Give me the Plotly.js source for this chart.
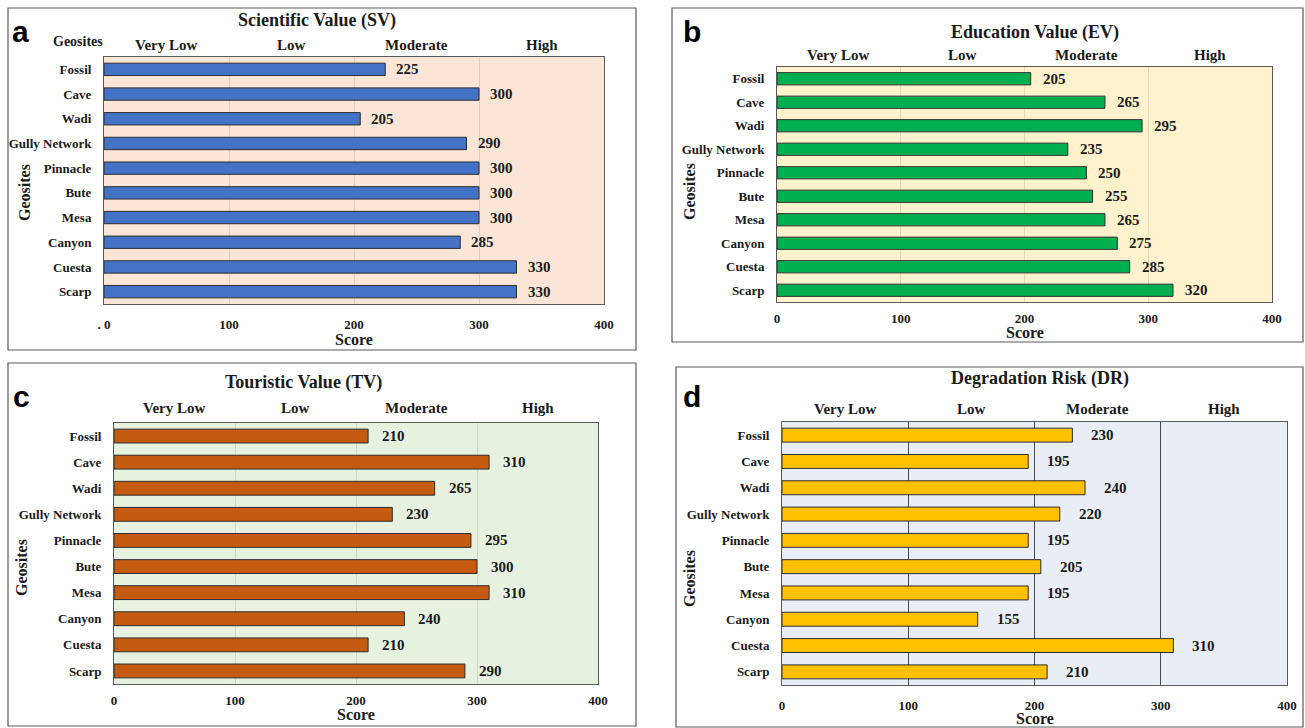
<!DOCTYPE html>
<html>
<head>
<meta charset="utf-8">
<script src="https://cdn.plot.ly/plotly-3.0.1.min.js"></script>
<style>html,body{margin:0;padding:0;background:#fff;}#chart{width:1305px;height:728px;}</style>
</head>
<body>
<div id="chart"></div>
<script>
// ---- Data ----
const categories = ['Fossil','Cave','Wadi','Gully Network','Pinnacle','Bute','Mesa','Canyon','Cuesta','Scarp'];
const scientificValue = [225, 300, 205, 290, 300, 300, 300, 285, 330, 330];
const educationValue  = [205, 265, 295, 235, 250, 255, 265, 275, 285, 320];
const touristicValue  = [210, 310, 265, 230, 295, 300, 310, 240, 210, 290];
const degradationRisk = [230, 195, 240, 220, 195, 205, 195, 155, 310, 210];
const classLabels  = ['Very Low','Low','Moderate','High'];
const classCenters = [50, 150, 250, 350];
const xTickVals = [0, 100, 200, 300, 400];
const xTickTextA = ['. 0', '100', '200', '300', '400'];
const xTickText  = ['0', '100', '200', '300', '400'];
const panelTitles = ['Scientific Value (SV)','Education Value (EV)','Touristic Value (TV)','Degradation Risk (DR)'];
const panelLetters = ['a','b','c','d'];

// ---- Layout geometry (pixels) ----
const W = 1305, H = 728;
const fx = p => p / W;
const fy = p => 1 - p / H;
const SERIF = '"Liberation Serif", "Times New Roman", serif';
const SANS = '"Liberation Sans", Arial, sans-serif';

const panels = [
  {values: scientificValue, color:'#4472C4', bg:'#FBE5D6', grid:'rgba(0,0,0,0.10)',
   box:[8,8,636,350], plot:[104,57,604,304], title:[317,20], letter:[20,32],
   classY:45, tickText:xTickTextA, standoff:8, scoreY:339, ytitle:[25,192], shift:9, bw:0.5},
  {values: educationValue, color:'#00B050', bg:'#FFF2CC', grid:'rgba(0,0,0,0.10)',
   box:[672,8,1303,342], plot:[777,67,1272,302], title:[1035,33], letter:[692,32],
   classY:55, tickText:xTickText, standoff:4, scoreY:333, ytitle:[690,192], shift:10, bw:0.52},
  {values: touristicValue, color:'#C55A11', bg:'#E7F1E0', grid:'rgba(0,0,0,0.10)',
   box:[8,363,636,726], plot:[114,423,598,684], title:[303,382], letter:[22,397],
   classY:408, tickText:xTickText, standoff:4, scoreY:714, ytitle:[21,568], shift:12, bw:0.53},
  {values: degradationRisk, color:'#FFC000', bg:'#E9EDF5', grid:'#4a4a4a',
   box:[676,367,1303,727], plot:[782,422,1287,685], title:[1040,378], letter:[692,397],
   classY:409, tickText:xTickText, standoff:8, scoreY:718, ytitle:[689,579], shift:17, bw:0.53}
];

const traces = [];
const layout = {
  width: W, height: H, autosize:false,
  margin:{l:0,r:0,t:0,b:0},
  paper_bgcolor:'#ffffff', plot_bgcolor:'rgba(0,0,0,0)',
  showlegend:false, bargap:0,
  shapes:[], annotations:[]
};

panels.forEach((p, i) => {
  const n = i + 1;
  const xa = n === 1 ? 'x' : 'x' + n;
  const ya = n === 1 ? 'y' : 'y' + n;
  const xKey = n === 1 ? 'xaxis' : 'xaxis' + n;
  const yKey = n === 1 ? 'yaxis' : 'yaxis' + n;

  traces.push({
    type:'bar', orientation:'h', x:p.values, y:categories,
    xaxis:xa, yaxis:ya, width:p.bw,
    marker:{color:p.color, line:{color:'#2e2e2e', width:1}},
    hoverinfo:'x+y'
  });

  layout[xKey] = {
    domain:[fx(p.plot[0]), fx(p.plot[2])], anchor:ya,
    range:[0,400], tickvals:xTickVals, ticktext:p.tickText,
    showgrid:true, gridcolor:p.grid, gridwidth:1, zeroline:false,
    showline:true, mirror:true, linecolor:'#5a5a5a', linewidth:1,
    ticks:'', ticklabelstandoff:p.standoff,
    tickfont:{family:SERIF, size:13, color:'#1a1a1a', weight:'bold'},
    fixedrange:true
  };
  layout[yKey] = {
    domain:[fy(p.plot[3]), fy(p.plot[1])], anchor:xa,
    type:'category', autorange:'reversed',
    showgrid:false, zeroline:false,
    showline:true, mirror:true, linecolor:'#5a5a5a', linewidth:1,
    ticks:'', ticklabelstandoff:9,
    tickfont:{family:SERIF, size:13, color:'#1a1a1a', weight:'bold'},
    fixedrange:true
  };

  // plot-area background
  layout.shapes.push({type:'rect', xref:xa + ' domain', yref:ya + ' domain',
    x0:0, x1:1, y0:0, y1:1, fillcolor:p.bg, line:{width:0}, layer:'below'});
  // panel border
  layout.shapes.push({type:'rect', xref:'paper', yref:'paper',
    x0:fx(p.box[0]), x1:fx(p.box[2]), y0:fy(p.box[3]), y1:fy(p.box[1]),
    fillcolor:'rgba(0,0,0,0)', line:{color:'#5a5a5a', width:1.2}, layer:'below'});

  // title
  layout.annotations.push({text:'<b>' + panelTitles[i] + '</b>', xref:'paper', yref:'paper',
    x:fx(p.title[0]), y:fy(p.title[1]), xanchor:'center', yanchor:'middle', showarrow:false,
    font:{family:SERIF, size:18, color:'#1a1a1a'}});
  // letter
  layout.annotations.push({text:'<b>' + panelLetters[i] + '</b>', xref:'paper', yref:'paper',
    x:fx(p.letter[0]), y:fy(p.letter[1]), xanchor:'center', yanchor:'middle', showarrow:false,
    font:{family:SANS, size:30, color:'#000'}});
  // class labels
  classLabels.forEach((lab, k) => {
    layout.annotations.push({text:'<b>' + lab + '</b>', xref:xa, yref:'paper',
      x:classCenters[k], y:fy(p.classY), xanchor:'center', yanchor:'middle', showarrow:false,
      font:{family:SERIF, size:15, color:'#1a1a1a'}});
  });
  // Score title
  layout.annotations.push({text:'<b>Score</b>', xref:xa + ' domain', yref:'paper',
    x:0.5, y:fy(p.scoreY), xanchor:'center', yanchor:'middle', showarrow:false,
    font:{family:SERIF, size:16, color:'#1a1a1a'}});
  // Geosites y title
  layout.annotations.push({text:'<b>Geosites</b>', xref:'paper', yref:'paper',
    x:fx(p.ytitle[0]), y:fy(p.ytitle[1]), xanchor:'center', yanchor:'middle', showarrow:false,
    textangle:-90, font:{family:SERIF, size:16, color:'#1a1a1a'}});
  // value labels
  p.values.forEach((v, k) => {
    layout.annotations.push({text:'<b>' + v + '</b>', xref:xa, yref:ya,
      x:v, y:categories[k], xanchor:'left', yanchor:'middle', xshift:p.shift, showarrow:false,
      font:{family:SERIF, size:15, color:'#1a1a1a'}});
  });
});

// extra "Geosites" header in panel a
layout.annotations.push({text:'<b>Geosites</b>', xref:'paper', yref:'paper',
  x:fx(78), y:fy(41), xanchor:'center', yanchor:'middle', showarrow:false,
  font:{family:SERIF, size:14, color:'#1a1a1a'}});

Plotly.newPlot('chart', traces, layout, {displayModeBar:false, staticPlot:true});
</script>
</body>
</html>
